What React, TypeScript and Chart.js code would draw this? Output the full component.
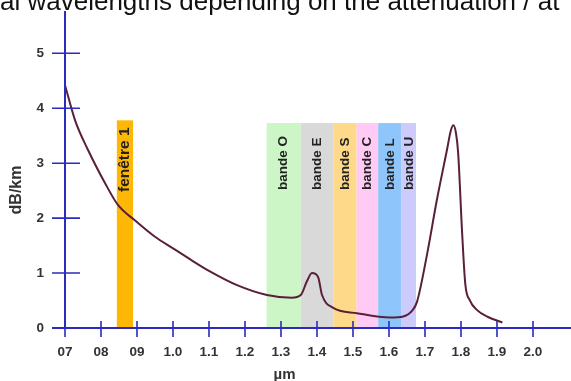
import React, { useEffect, useRef } from "react";
import { Chart, registerables } from "chart.js";

Chart.register(...registerables);

// ---- data ----
const curveX = [0.7, 0.728, 0.764, 0.811, 0.847, 0.894, 0.95, 1.0, 1.05, 1.1, 1.178, 1.261, 1.33, 1.355, 1.372, 1.386, 1.403, 1.414, 1.444, 1.511, 1.603, 1.64, 1.665, 1.678, 1.706, 1.733, 1.761, 1.772, 1.779, 1.786, 1.792, 1.803, 1.812, 1.825, 1.844, 1.875, 1.915];
const curveY = [4.42, 3.78, 3.24, 2.64, 2.24, 1.96, 1.66, 1.45, 1.24, 1.04, 0.78, 0.6, 0.55, 0.6, 0.85, 1.0, 0.93, 0.6, 0.37, 0.27, 0.19, 0.21, 0.32, 0.48, 1.35, 2.33, 3.24, 3.6, 3.69, 3.55, 3.2, 1.75, 0.8, 0.5, 0.33, 0.2, 0.1];

const bandNames = ["fenêtre 1", "bande O", "bande E", "bande S", "bande C", "bande L", "bande U"];
const bandStart = [0.844, 1.26, 1.355, 1.445, 1.51, 1.57, 1.635];
const bandEnd = [0.889, 1.355, 1.445, 1.51, 1.57, 1.635, 1.675];
const bandTop = [3.78, 3.73, 3.73, 3.73, 3.73, 3.73, 3.73];
const bandColors = ["#ffb705", "#ccf6c6", "#d9d9d9", "#ffd98a", "#ffcaf3", "#8ec6fb", "#cccbfb"];

const xTickValues = [0.7, 0.8, 0.9, 1.0, 1.1, 1.2, 1.3, 1.4, 1.5, 1.6, 1.7, 1.8, 1.9, 2.0];
const xTickLabels = ["07", "08", "09", "1.0", "1.1", "1.2", "1.3", "1.4", "1.5", "1.6", "1.7", "1.8", "1.9", "2.0"];
const yTickValues = [0, 1, 2, 3, 4, 5];
const yTickLabels = ["0", "1", "2", "3", "4", "5"];

const topText = "al wavelengths depending on the attenuation / at";
const yTitle = "dB/km";
const xTitle = "µm";

const AXIS_COLOR = "#2b2bbf";
const FONT_FAMILY = "Arial, 'Liberation Sans', sans-serif";

const decorPlugin = {
  id: "decor",
  beforeDatasetsDraw(chart: any) {
    const { ctx, scales } = chart;
    const xs = scales.x;
    const ys = scales.y;
    ctx.save();
    for (let i = 0; i < bandNames.length; i++) {
      const x0 = xs.getPixelForValue(bandStart[i]);
      const x1 = xs.getPixelForValue(bandEnd[i]);
      const y0 = ys.getPixelForValue(bandTop[i]);
      const y1 = ys.getPixelForValue(0);
      ctx.fillStyle = bandColors[i];
      ctx.fillRect(x0, y0, x1 - x0, y1 - y0);
    }
    ctx.fillStyle = "#222";
    ctx.textAlign = "left";
    ctx.textBaseline = "middle";
    for (let i = 0; i < bandNames.length; i++) {
      const cx = (xs.getPixelForValue(bandStart[i]) + xs.getPixelForValue(bandEnd[i])) / 2;
      ctx.font = (i === 0 ? "bold 15.5px " : "bold 13.5px ") + FONT_FAMILY;
      ctx.save();
      ctx.translate(cx, i === 0 ? 192 : 190);
      ctx.rotate(-Math.PI / 2);
      ctx.fillText(bandNames[i], 0, 0);
      ctx.restore();
    }
    ctx.restore();
  },
  afterDatasetsDraw(chart: any) {
    const { ctx, scales, chartArea } = chart;
    const xs = scales.x;
    const ys = scales.y;
    const ax = xs.getPixelForValue(0.7);
    const ay = ys.getPixelForValue(0);
    ctx.save();
    ctx.strokeStyle = AXIS_COLOR;
    ctx.lineWidth = 2;
    ctx.beginPath();
    ctx.moveTo(ax, chartArea.top);
    ctx.lineTo(ax, ay);
    ctx.moveTo(ax - 13, ay);
    ctx.lineTo(chartArea.right, ay);
    ctx.stroke();
    ctx.lineWidth = 1.6;
    ctx.beginPath();
    for (const t of ys.ticks) {
      const py = ys.getPixelForValue(t.value);
      ctx.moveTo(ax - 13, py);
      ctx.lineTo(ax + 15, py);
    }
    for (const t of xs.ticks) {
      const px = xs.getPixelForValue(t.value);
      ctx.moveTo(px, ay - 7);
      ctx.lineTo(px, ay + 9);
    }
    ctx.stroke();

    ctx.fillStyle = "#333";
    ctx.textAlign = "center";
    ctx.textBaseline = "middle";
    ctx.font = "bold 15px " + FONT_FAMILY;
    ctx.fillText(xTitle, xs.getPixelForValue(1.31), 375);
    ctx.font = "bold 16px " + FONT_FAMILY;
    ctx.save();
    ctx.translate(17, 190);
    ctx.rotate(-Math.PI / 2);
    ctx.fillText(yTitle, 0, 0);
    ctx.restore();

    ctx.fillStyle = "#111";
    ctx.font = "26px " + FONT_FAMILY;
    ctx.textAlign = "left";
    ctx.textBaseline = "alphabetic";
    ctx.fillText(topText, 0, 10);
    ctx.restore();
  },
};

export default function App() {
  const ref = useRef<HTMLCanvasElement | null>(null);
  useEffect(() => {
    if (!ref.current) return;
    const chart = new Chart(ref.current, {
      type: "line",
      data: {
        datasets: [
          {
            data: curveX.map((x, i) => ({ x, y: curveY[i] })),
            borderColor: "#5a1f3a",
            borderWidth: 2,
            pointRadius: 0,
            cubicInterpolationMode: "monotone",
            fill: false,
          },
        ],
      },
      options: {
        animation: false,
        responsive: false,
        maintainAspectRatio: false,
        layout: { autoPadding: false, padding: { top: 11, left: 0, right: 0, bottom: 0 } },
        plugins: { legend: { display: false }, tooltip: { enabled: false }, title: { display: false } },
        scales: {
          x: {
            type: "linear",
            min: 0.7,
            max: 2.1056,
            grid: { display: false, drawTicks: false },
            border: { display: false },
            afterBuildTicks: (s: any) => {
              s.ticks = xTickValues.map((v) => ({ value: v }));
            },
            afterFit: (s: any) => {
              s.height = 53;
              s.paddingLeft = 0;
              s.paddingRight = 0;
            },
            ticks: {
              padding: 16,
              color: "#333",
              font: { family: FONT_FAMILY, size: 13.5, weight: "bold" },
              maxRotation: 0,
              autoSkip: false,
              callback: (v: any, i: number) => xTickLabels[i],
            },
          },
          y: {
            type: "linear",
            min: 0,
            max: 5.77,
            grid: { display: false, drawTicks: false },
            border: { display: false },
            afterBuildTicks: (s: any) => {
              s.ticks = yTickValues.map((v) => ({ value: v }));
            },
            afterFit: (s: any) => {
              s.width = 65;
              s.paddingTop = 0;
              s.paddingBottom = 0;
            },
            ticks: {
              padding: 21,
              color: "#333",
              font: { family: FONT_FAMILY, size: 13.5, weight: "bold" },
              callback: (v: any, i: number) => yTickLabels[i],
            },
          },
        },
      },
      plugins: [decorPlugin],
    } as any);
    return () => chart.destroy();
  }, []);
  return (
    <div style={{ position: "fixed", left: 0, top: 0, width: 571, height: 381, background: "#fff" }}>
      <canvas ref={ref} width={571} height={381} style={{ display: "block", width: 571, height: 381 }} />
    </div>
  );
}
